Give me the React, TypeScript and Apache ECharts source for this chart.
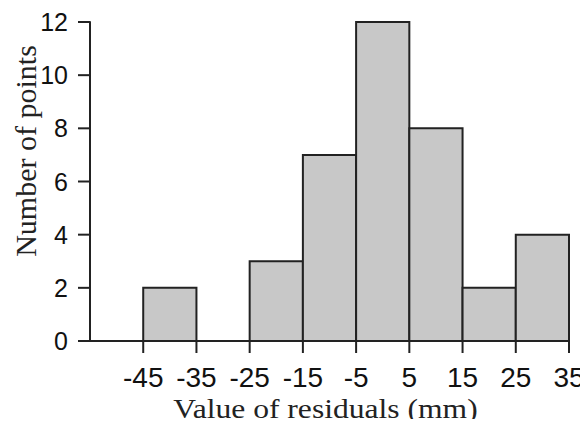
import React, { useEffect, useRef } from "react";
import * as echarts from "echarts";

const binStarts = [-55, -45, -35, -25, -15, -5, 5, 15, 25];
const binWidth = 10;
const counts = [0, 2, 0, 3, 7, 12, 8, 2, 4];
const xTicks = [-45, -35, -25, -15, -5, 5, 15, 25, 35];
const yTicks = [0, 2, 4, 6, 8, 10, 12];
const xTitle = "Value of residuals (mm)";
const yTitle = "Number of points";

const X_MIN = -55;
const X_MAX = 35;
const TICK_LEN = 12;
const INK = "#222";

export default function App() {
  const ref = useRef<HTMLDivElement>(null);
  useEffect(() => {
    if (!ref.current) return;
    const chart = echarts.init(ref.current, undefined, { renderer: "svg" });
    const data = binStarts.map((s, i) => [s, s + binWidth, counts[i]]);
    chart.setOption({
      animation: false,
      backgroundColor: "#fff",
      grid: { left: 90, right: 19, top: 22, bottom: 86, containLabel: false, outerBoundsMode: "none" },
      xAxis: {
        type: "value",
        min: X_MIN,
        max: X_MAX,
        z: 5,
        splitLine: { show: false },
        axisLine: { show: true, onZero: false, lineStyle: { color: INK, width: 2 } },
        axisTick: { show: false },
        axisLabel: {
          customValues: xTicks,
          margin: 22,
          fontSize: 28,
          fontFamily: "Liberation Sans",
          color: "#111",
        },
      },
      yAxis: {
        type: "value",
        min: 0,
        max: 12,
        interval: 2,
        z: 5,
        splitLine: { show: false },
        axisLine: { show: true, onZero: false, lineStyle: { color: INK, width: 2 } },
        axisTick: { show: false },
        axisLabel: {
          margin: 22,
          fontSize: 25,
          fontFamily: "Liberation Sans",
          color: "#111",
        },
      },
      series: [
        {
          type: "custom",
          data,
          z: 2,
          renderItem: (params: any, api: any) => {
            const lo = api.value(0);
            const hi = api.value(1);
            const v = api.value(2);
            const p1 = api.coord([lo, v]);
            const p2 = api.coord([hi, 0]);
            return {
              type: "rect",
              shape: { x: p1[0], y: p1[1], width: p2[0] - p1[0], height: p2[1] - p1[1] },
              style: { fill: "#c8c8c8", stroke: INK, lineWidth: 2 },
            };
          },
          encode: { x: [0, 1], y: 2 },
        },
      ],
    });

    const tickEls: any[] = [];
    xTicks.forEach((v) => {
      const p = chart.convertToPixel({ gridIndex: 0 }, [v, 0]) as number[];
      tickEls.push({
        type: "rect",
        z: 10,
        shape: { x: p[0] - 1, y: p[1], width: 2, height: TICK_LEN },
        style: { fill: INK },
      });
    });
    yTicks.forEach((v) => {
      const p = chart.convertToPixel({ gridIndex: 0 }, [X_MIN, v]) as number[];
      tickEls.push({
        type: "rect",
        z: 10,
        shape: { x: p[0] - TICK_LEN, y: p[1] - 1, width: TICK_LEN, height: 2 },
        style: { fill: INK },
      });
    });
    const xMid = chart.convertToPixel({ gridIndex: 0 }, [(X_MIN + X_MAX) / 2, 0]) as number[];

    chart.setOption({
      graphic: [
        ...tickEls,
        {
          type: "text",
          x: xMid[0] - 4,
          y: xMid[1] + 54,
          scaleX: 1.17,
          style: {
            text: xTitle,
            fontSize: 27,
            fontFamily: "Liberation Serif",
            fill: INK,
            textAlign: "center",
            textVerticalAlign: "top",
          },
        },
        {
          type: "text",
          x: 25,
          y: 151,
          rotation: Math.PI / 2,
          style: {
            text: yTitle,
            fontSize: 30,
            fontFamily: "Liberation Serif",
            fill: INK,
            textAlign: "center",
            textVerticalAlign: "middle",
          },
        },
      ],
    });
    return () => chart.dispose();
  }, []);
  return <div ref={ref} style={{ width: 588, height: 427, margin: -8 }} />;
}
